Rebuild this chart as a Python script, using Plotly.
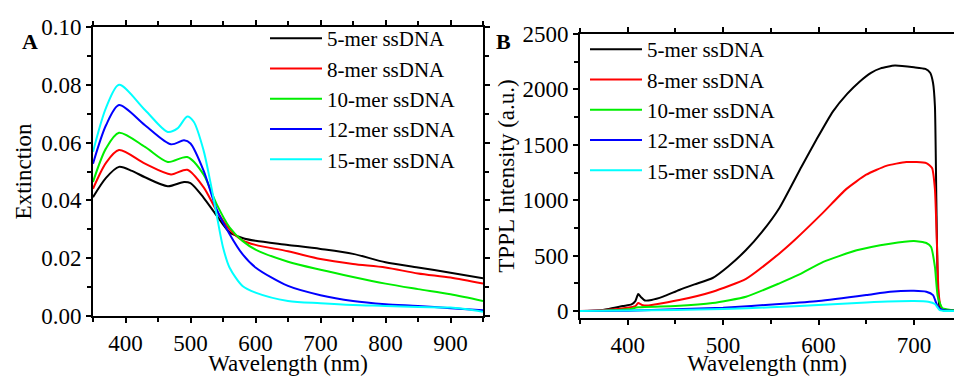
import plotly.graph_objects as go

# ---------------- Panel A: extinction spectra ----------------
names = ["5-mer ssDNA", "8-mer ssDNA", "10-mer ssDNA", "12-mer ssDNA", "15-mer ssDNA"]
colors = ["#000000", "#ff0000", "#00ee00", "#0000ff", "#00ffff"]

ext_wl_5 = [350, 370, 390, 410, 430, 465, 490, 500, 520, 540, 560, 580, 600, 650, 700, 750, 800, 850, 900, 950]
ext_5 = [0.0411, 0.0478, 0.0516, 0.0502, 0.0480, 0.0449, 0.0464, 0.0460, 0.0410, 0.0348, 0.0290, 0.0270,
         0.0260, 0.0246, 0.0232, 0.0215, 0.0186, 0.0168, 0.0150, 0.0131]

ext_wl_8 = [350, 370, 390, 430, 470, 495, 520, 540, 560, 580, 600, 650, 700, 750, 800, 850, 900, 950]
ext_8 = [0.0440, 0.0530, 0.0574, 0.0527, 0.0490, 0.0506, 0.0446, 0.0365, 0.0300, 0.0262, 0.0246, 0.0224,
         0.0197, 0.0180, 0.0168, 0.0147, 0.0133, 0.0112]

ext_wl_10 = [350, 370, 390, 430, 465, 495, 520, 540, 560, 580, 600, 650, 700, 750, 800, 850, 900, 950]
ext_10 = [0.0464, 0.0580, 0.0634, 0.0585, 0.0533, 0.0550, 0.0490, 0.0388, 0.0307, 0.0260, 0.0230, 0.0188,
          0.0160, 0.0135, 0.0112, 0.0093, 0.0075, 0.0052]

ext_wl_12 = [350, 370, 390, 430, 470, 490, 500, 520, 540, 560, 580, 600, 650, 700, 750, 800, 850, 900, 950]
ext_12 = [0.0527, 0.0660, 0.0730, 0.0660, 0.0594, 0.0608, 0.0597, 0.0504, 0.0371, 0.0284, 0.0214, 0.0168,
          0.0104, 0.0072, 0.0052, 0.0041, 0.0035, 0.0027, 0.0020]

ext_wl_15 = [350, 370, 390, 430, 465, 480, 495, 505, 520, 530, 540, 550, 560, 580, 600, 650, 700, 750, 800,
             850, 900, 950]
ext_15 = [0.0568, 0.0720, 0.0800, 0.0713, 0.0637, 0.0649, 0.0690, 0.0672, 0.0574, 0.0470, 0.0353, 0.0238,
          0.0168, 0.0104, 0.0081, 0.0052, 0.0044, 0.0038, 0.0035, 0.0031, 0.0029, 0.0015]

# ---------------- Panel B: TPPL spectra ----------------
pl_wl_5 = [350, 370, 380, 395, 404, 408, 411, 414, 418, 425, 437, 454, 470, 489, 505, 524, 541, 559, 582, 598,
           615, 630, 643, 655, 665, 680, 700, 712, 717, 720, 722, 723.5, 725, 727, 730, 745]
pl_5 = [0, 5, 18, 45, 60, 90, 153, 125, 95, 100, 130, 190, 240, 298, 400, 550, 716, 930, 1300, 1550,
        1800, 1960, 2070, 2150, 2190, 2215, 2200, 2185, 2150, 2060, 1850, 1000, 250, 30, 8, 5]

pl_wl_8 = [350, 375, 400, 408, 411, 415, 420, 454, 489, 524, 559, 575, 605, 629, 650, 671, 692, 713, 719, 722,
           724, 726, 729, 745]
pl_8 = [0, 9, 30, 45, 72, 55, 50, 99, 174, 290, 520, 641, 890, 1100, 1230, 1310, 1345, 1335, 1290, 1100,
        640, 150, 20, 3]

pl_wl_10 = [350, 375, 400, 411, 450, 489, 524, 559, 580, 605, 640, 675, 700, 713, 718, 722, 725, 730, 740, 745]
pl_10 = [0, 3, 15, 33, 45, 72, 129, 250, 330, 443, 548, 608, 632, 614, 578, 398, 129, 24, 9, 5]

pl_wl_12 = [350, 400, 450, 500, 559, 600, 650, 675, 700, 713, 720, 725, 730, 745]
pl_12 = [0, 3, 15, 30, 63, 90, 144, 174, 183, 174, 144, 39, 9, 3]

pl_wl_15 = [350, 450, 500, 550, 600, 650, 700, 715, 722, 727, 735, 745]
pl_15 = [0, 9, 18, 33, 54, 78, 90, 84, 63, 9, 0, 0]

ext_series = [(ext_wl_5, ext_5), (ext_wl_8, ext_8), (ext_wl_10, ext_10), (ext_wl_12, ext_12), (ext_wl_15, ext_15)]
pl_series = [(pl_wl_5, pl_5), (pl_wl_8, pl_8), (pl_wl_10, pl_10), (pl_wl_12, pl_12), (pl_wl_15, pl_15)]

ext_range = [350, 950]
pl_range = [350, 742]

W, H = 954, 376
FONT = "Liberation Serif"
TICK = 23
TITLE = 23
LEG = 21

fig = go.Figure()
for (x, y), n, c in zip(ext_series, names, colors):
    fig.add_trace(go.Scatter(x=x, y=y, name=n, mode="lines",
                             line=dict(color=c, width=2, shape="spline", smoothing=0.8),
                             xaxis="x", yaxis="y", legend="legend"))
for (x, y), n, c in zip(pl_series, names, colors):
    fig.add_trace(go.Scatter(x=x, y=y, name=n, mode="lines",
                             line=dict(color=c, width=2, shape="spline", smoothing=0.5),
                             xaxis="x2", yaxis="y2", legend="legend2"))


def px_x(p):
    return p / W


def px_y(p):
    return 1 - p / H


axis_common = dict(showline=True, linecolor="black", linewidth=2, ticks="outside", ticklen=5, tickwidth=2,
                   tickcolor="black", showgrid=False, zeroline=False, automargin=False,
                   tickfont=dict(family=FONT, size=TICK, color="black"))
minor_common = dict(ticks="outside", ticklen=4, tickwidth=1.5, tickcolor="black")

fig.update_layout(
    width=W, height=H, margin=dict(l=0, r=0, t=0, b=0, autoexpand=False),
    paper_bgcolor="white", plot_bgcolor="white",
    font=dict(family=FONT, size=22, color="black"),
    xaxis=dict(**axis_common, domain=[px_x(93), px_x(483)], range=ext_range, dtick=100, mirror="ticks",
               minor=dict(dtick=50, **minor_common),
               title=dict(text="Wavelength (nm)", standoff=9, font=dict(family=FONT, size=TITLE))),
    yaxis=dict(**axis_common, domain=[px_y(316), px_y(27)], range=[0, 0.1], dtick=0.02, tickformat=".2f",
               mirror="ticks", anchor="x",
               minor=dict(dtick=0.01, **minor_common),
               title=dict(text="Extinction", standoff=3, font=dict(family=FONT, size=TITLE))),
    xaxis2=dict(**axis_common, domain=[px_x(580), 1.0], range=pl_range, dtick=100, mirror="ticks", anchor="y2",
                minor=dict(dtick=50, **minor_common),
                title=dict(text="Wavelength (nm)", standoff=9, font=dict(family=FONT, size=TITLE))),
    yaxis2=dict(**axis_common, domain=[px_y(318), px_y(34)], range=[-63, 2500], dtick=500, anchor="x2",
                minor=dict(dtick=250, **minor_common),
                title=dict(text="TPPL Intensity (a.u.)", standoff=1, font=dict(family=FONT, size=TITLE))),
    legend=dict(x=px_x(265), y=px_y(18), xanchor="left", yanchor="top", bgcolor="rgba(0,0,0,0)",
                font=dict(family=FONT, size=LEG), itemwidth=52, tracegroupgap=0),
    legend2=dict(x=px_x(585), y=px_y(29), xanchor="left", yanchor="top", bgcolor="rgba(0,0,0,0)",
                 font=dict(family=FONT, size=LEG), itemwidth=52, tracegroupgap=0),
    annotations=[
        dict(text="<b>A</b>", x=px_x(30), y=px_y(42), xref="paper", yref="paper", showarrow=False,
             font=dict(family=FONT, size=22), xanchor="center", yanchor="middle"),
        dict(text="<b>B</b>", x=px_x(503), y=px_y(42), xref="paper", yref="paper", showarrow=False,
             font=dict(family=FONT, size=22), xanchor="center", yanchor="middle"),
    ],
    showlegend=True,
)

fig.write_html("out.html")
